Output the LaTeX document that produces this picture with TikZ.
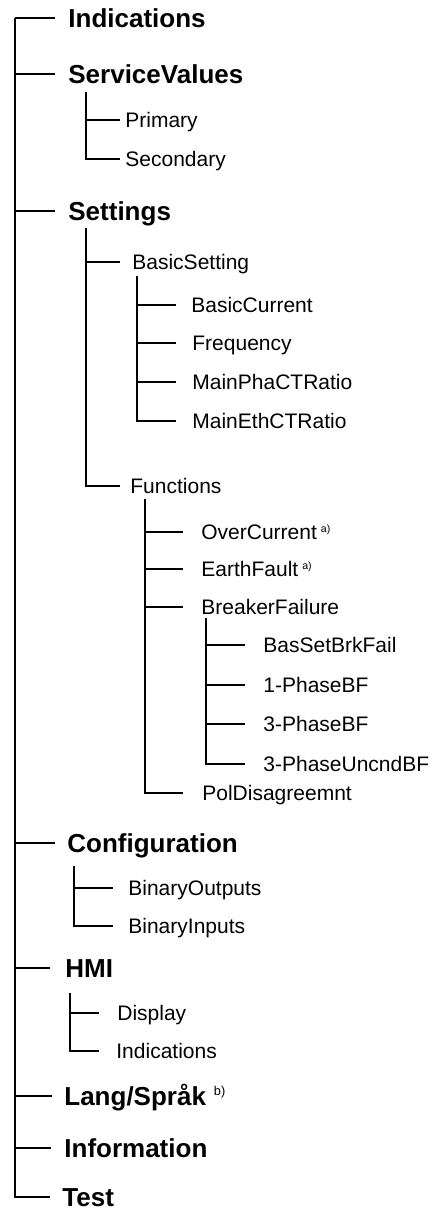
\documentclass[tikz,border=0pt]{standalone}
\usepackage{fontspec}
\setmainfont{Liberation Sans}
\tikzset{
	every node/.style={inner sep=0pt, text depth=0pt, anchor=west},
	head/.style={font=\bfseries\fontsize{13}{15}\selectfont, text height=9.3pt},
	item/.style={font=\fontsize{10.5}{12}\selectfont, text height=7.5pt},
	branch/.style={line width=0.9pt, shorten >=#1},
	branch/.default=6.5pt
}
\newcommand{\fnmark}[1]{\hspace{2pt}\raisebox{3.6pt}{\fontsize{5.3}{6}\selectfont #1}}

\begin{document}
\begin{tikzpicture}[x=0.5pt, y=-0.5pt]
	\useasboundingbox (0,0) rectangle (437,1212);
	
	% top level
	\coordinate (root) at (15,18);
	\node[head] (ind)  at (68,18)   {Indications};
	\node[head] (sv)   at (68,74)   {ServiceValues};
	\node[head] (set)  at (68,211)  {Settings};
	\node[head] (cfg)  at (67,843)  {Configuration};
	\node[head] (hmi)  at (65,968)  {HMI};
	\node[head] (lang) at (64,1096) {Lang/Språk\hspace{4pt}\raisebox{4.8pt}{\mdseries\fontsize{6.4}{7}\selectfont b)}};
	\node[head] (info) at (64,1148) {Information};
	\node[head] (test) at (62,1197) {Test};
	
	\draw[branch] (root) -- (ind.west);
	\draw[branch] (root |- sv.west) -- (sv.west);
	\draw[branch] (root |- set.west) -- (set.west);
	\draw[branch=6pt] (root |- cfg.west) -- (cfg.west);
	\draw[branch=7.5pt] (root |- hmi.west) -- (hmi.west);
	\draw[branch=6pt] (root |- lang.west) -- (lang.west);
	\draw[branch] (root |- info.west) -- (info.west);
	\draw[branch=6pt] (root) |- (test.west);
	
	% ServiceValues
	\coordinate (svbar) at (86,92);
	\node[item] (pri) at (125,120) {Primary};
	\node[item] (sec) at (125,159) {Secondary};
	\draw[branch=2.5pt] (svbar |- pri.west) -- (pri.west);
	\draw[branch=2.5pt] (svbar) |- (sec.west);
	
	% Settings
	\coordinate (setbar) at (86,228);
	\node[item] (bs)  at (132,262) {BasicSetting};
	\node[item] (fun) at (130,486) {Functions};
	\draw[branch=6pt] (setbar |- bs.west) -- (bs.west);
	\draw[branch=5pt] (setbar) |- (fun.west);
	
	% BasicSetting
	\coordinate (bsbar) at (137,276);
	\node[item] (bcur) at (191,305) {BasicCurrent};
	\node[item] (freq) at (192,343) {Frequency};
	\node[item] (pha)  at (192,382) {MainPhaCTRatio};
	\node[item] (eth)  at (192,421) {MainEthCTRatio};
	\draw[branch=7.5pt] (bsbar |- bcur.west) -- (bcur.west);
	\draw[branch=8pt] (bsbar |- freq.west) -- (freq.west);
	\draw[branch=8pt] (bsbar |- pha.west) -- (pha.west);
	\draw[branch=8pt] (bsbar) |- (eth.west);
	
	% Functions
	\coordinate (funbar) at (145,499);
	\node[item] (oc)  at (201,532) {OverCurrent\fnmark{a)}};
	\node[item] (ef)  at (201,569) {EarthFault\fnmark{a)}};
	\node[item] (bf)  at (201,607) {BreakerFailure};
	\node[item] (pol) at (202,793) {PolDisagreemnt};
	\draw[branch=9pt] (funbar |- oc.west) -- (oc.west);
	\draw[branch=9pt] (funbar |- ef.west) -- (ef.west);
	\draw[branch=9pt] (funbar |- bf.west) -- (bf.west);
	\draw[branch=9.5pt] (funbar) |- (pol.west);
	
	% BreakerFailure
	\coordinate (bfbar) at (206,618);
	\node[item] (bas)   at (263,645) {BasSetBrkFail};
	\node[item] (one)   at (263,685) {1-PhaseBF};
	\node[item] (three) at (263,724) {3-PhaseBF};
	\node[item] (unc)   at (263,764) {3-PhaseUncndBF};
	\draw[branch=9pt] (bfbar |- bas.west) -- (bas.west);
	\draw[branch=9pt] (bfbar |- one.west) -- (one.west);
	\draw[branch=9pt] (bfbar |- three.west) -- (three.west);
	\draw[branch=9pt] (bfbar) |- (unc.west);
	
	% Configuration
	\coordinate (cfgbar) at (74,866);
	\node[item] (bo) at (128,888) {BinaryOutputs};
	\node[item] (bi) at (128,926) {BinaryInputs};
	\draw[branch=7.5pt] (cfgbar |- bo.west) -- (bo.west);
	\draw[branch=7.5pt] (cfgbar) |- (bi.west);
	
	% HMI
	\coordinate (hmibar) at (70,993);
	\node[item] (disp) at (117,1013) {Display};
	\node[item] (hind) at (116,1051) {Indications};
	\draw[branch=9pt] (hmibar |- disp.west) -- (disp.west);
	\draw[branch=8.5pt] (hmibar) |- (hind.west);
\end{tikzpicture}
\end{document}
